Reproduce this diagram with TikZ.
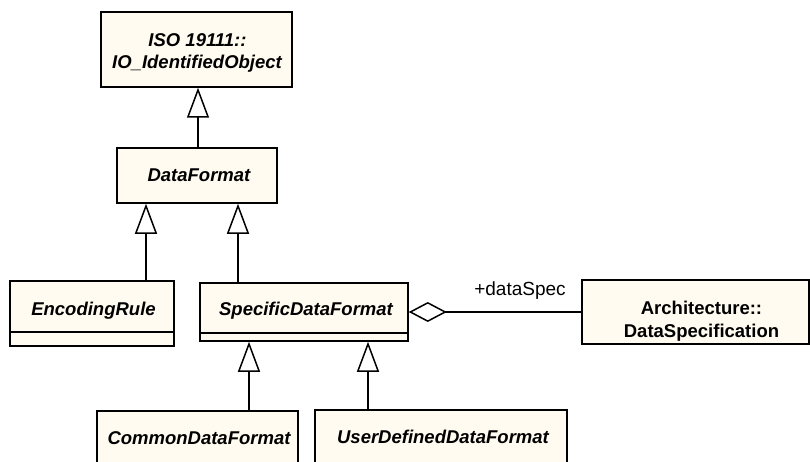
\documentclass[tikz,border=0pt]{standalone}
\usepackage{fontspec}
\setmainfont{Liberation Sans}
\usetikzlibrary{arrows.meta}
\definecolor{clsfill}{RGB}{255,251,240}
\definecolor{ink}{RGB}{0,0,0}
\tikzset{
  box/.style={draw=ink, fill=clsfill, line width=1.5pt, rectangle, inner sep=0pt},
  cls/.style={font=\fontsize{18.5}{21}\selectfont\bfseries\itshape, inner sep=0pt, anchor=base},
  clsup/.style={font=\fontsize{18.5}{21}\selectfont\bfseries, inner sep=0pt, anchor=base},
  role/.style={font=\fontsize{19}{22}\selectfont, inner sep=0pt, anchor=base},
  gen/.style={line width=1.5pt, draw=ink, -{Triangle[open, length=30pt, width=22pt, line join=miter]}},
  agg/.style={line width=1.5pt, draw=ink, {Diamond[open, length=38pt, width=20pt]}-},
  comp/.style={line width=1.5pt, draw=ink}
}
\begin{document}
\begin{tikzpicture}[x=1pt, y=-1pt]
\useasboundingbox (0,0) rectangle (810,462);
\clip (0,0) rectangle (810,462);
\fill[white] (0,0) rectangle (810,462);

% class boxes
\node[box, minimum width=191pt, minimum height=75pt] (iso) at (196.5,49.5) {};
\node[box, minimum width=160pt, minimum height=55pt] (df) at (197,175.5) {};
\node[box, minimum width=164pt, minimum height=65pt] (enc) at (92,313.5) {};
\node[box, minimum width=208pt, minimum height=58pt] (sdf) at (304,312) {};
\node[box, minimum width=227pt, minimum height=64pt] (arch) at (695.5,312) {};
\node[box, minimum width=201pt, minimum height=62pt] (cdf) at (197.5,442) {};
\node[box, minimum width=252pt, minimum height=62pt] (udf) at (441,441) {};

% compartments
\draw[comp] ([yshift=15pt]enc.south west) -- ([yshift=15pt]enc.south east);
\draw[comp] ([yshift=9pt]sdf.south west) -- ([yshift=9pt]sdf.south east);

% texts
\node[cls] (isoA) at (197.5,47) {ISO 19111::};
\node[cls] (isoB) at (197,68.3) {IO\_IdentifiedObject};
\node[cls] (dfT) at (199,182) {DataFormat};
\node[cls] (encT) at (93.5,315.7) {EncodingRule};
\node[cls] (sdfT) at (306,315.7) {SpecificDataFormat};
\node[clsup] (archA) at (701.5,314) {Architecture::};
\node[clsup] (archB) at (701.5,337.3) {DataSpecification};
\node[cls] (cdfT) at (199,444) {CommonDataFormat};
\node[cls] (udfT) at (443,443) {UserDefinedDataFormat};
\node[role] (roleT) at (520,295) {+dataSpec};

% connector columns
\coordinate (c1) at (198,0);
\coordinate (c2) at (146,0);
\coordinate (c3) at (238,0);
\coordinate (c4) at (249,0);
\coordinate (c5) at (368,0);

% generalizations
\draw[gen] (df.north -| c1) -- (iso.south -| c1);
\draw[gen] (enc.north -| c2) -- (df.south -| c2);
\draw[gen] (sdf.north -| c3) -- (df.south -| c3);
\draw[gen] (cdf.north -| c4) -- (sdf.south -| c4);
\draw[gen] (udf.north -| c5) -- (sdf.south -| c5);

% aggregation
\draw[agg] (sdf.east) -- (arch.west);
\end{tikzpicture}
\end{document}
